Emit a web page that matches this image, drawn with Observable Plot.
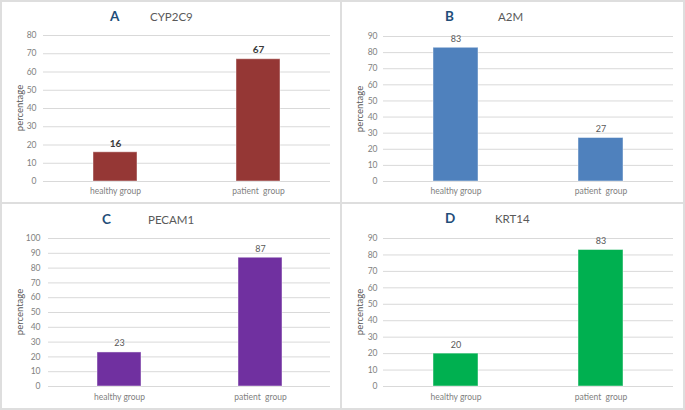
<!DOCTYPE html>
<html>
<head>
<meta charset="utf-8">
<script src="https://cdn.jsdelivr.net/npm/d3@7"></script>
<script src="https://cdn.jsdelivr.net/npm/@observablehq/plot@0.6"></script>
<style>
  html, body { margin: 0; padding: 0; background: #ffffff; }
  #page { position: relative; width: 685px; height: 410px; background: #dedede; overflow: hidden; font-family: Lato, "Open Sans", sans-serif; }
  .panel { position: absolute; background: #ffffff; }
  .chart { position: absolute; }
  .chart svg text { white-space: pre; }
  .title { position: absolute; white-space: pre; line-height: 1; }
  .letter { font-weight: 700; color: #1f4e79; font-size: 13.5px; }
  .gene { color: #595959; font-size: 11.5px; }
</style>
</head>
<body>
<div id="page"></div>
<script>
// ---- data ----
const letters = ["A", "B", "C", "D"];
const genes = ["CYP2C9", "A2M", "PECAM1", "KRT14"];
const groups = ["healthy group", "patient  group"];
const healthyValues = [16, 83, 23, 20];
const patientValues = [67, 27, 87, 83];
const yMaxValues = [80, 90, 100, 90];
const yStep = 10;

// ---- styles / layout (kept separate from data) ----
const barColors = ["#953735", "#4f81bd", "#7030a0", "#00b050"];
const valueStyles = [
  {fill: "#3a3a3a", fontWeight: "bold", fontSize: 10},
  {fill: "#595959", fontWeight: "normal", fontSize: 9},
  {fill: "#595959", fontWeight: "normal", fontSize: 9},
  {fill: "#595959", fontWeight: "normal", fontSize: 9}
];
const panelBoxes = [
  {left: 2, top: 2, width: 338, height: 200},
  {left: 342, top: 2, width: 341, height: 200},
  {left: 2, top: 204, width: 338, height: 204},
  {left: 342, top: 204, width: 341, height: 204}
];
const chartBoxes = [
  {left: 0, top: 0, width: 340, height: 202, mL: 43, mR: 10, mT: 35, mB: 21, yPad: 7, xPad: 6.5},
  {left: 340, top: 0, width: 345, height: 202, mL: 43, mR: 12, mT: 36, mB: 21, yPad: 6, xPad: 6.5},
  {left: 0, top: 202, width: 340, height: 208, mL: 48, mR: 10, mT: 36, mB: 24, yPad: 8, xPad: 7.5},
  {left: 340, top: 202, width: 345, height: 208, mL: 43, mR: 12, mT: 36, mB: 24, yPad: 6, xPad: 7.5}
];
const titlePos = [
  {letterX: 110, geneX: 150, cy: 17},
  {letterX: 445, geneX: 498, cy: 17},
  {letterX: 102, geneX: 148, cy: 220},
  {letterX: 445, geneX: 495, cy: 219}
];
const percentX = [20, 360, 20, 360];

const page = document.getElementById("page");

letters.forEach((letter, i) => {
  const pb = panelBoxes[i];
  const panel = document.createElement("div");
  panel.className = "panel";
  Object.assign(panel.style, {left: pb.left + "px", top: pb.top + "px", width: pb.width + "px", height: pb.height + "px"});
  page.appendChild(panel);
});

letters.forEach((letter, i) => {
  const cb = chartBoxes[i];
  const data = groups.map((g, j) => ({group: g, value: j === 0 ? healthyValues[i] : patientValues[i]}));
  const ticks = d3.range(0, yMaxValues[i] + 1, yStep);
  const vs = valueStyles[i];
  const chart = Plot.plot({
    width: cb.width,
    height: cb.height,
    marginLeft: cb.mL,
    marginRight: cb.mR,
    marginTop: cb.mT,
    marginBottom: cb.mB,
    style: {background: "transparent", fontFamily: "Lato, 'Open Sans', sans-serif", fontSize: "8.5px", color: "#7f7f7f", overflow: "visible"},
    x: {domain: groups, paddingInner: 0.69, paddingOuter: 0.345, label: null},
    y: {domain: [0, yMaxValues[i]], label: null},
    marks: [
      Plot.gridY(ticks, {stroke: "#d9d9d9", strokeOpacity: 1, strokeWidth: 1}),
      Plot.barY(data, {x: "group", y: "value", fill: barColors[i], stroke: "#ffffff", strokeOpacity: 0.45, strokeWidth: 1}),
      Plot.text(data, {x: "group", y: "value", text: d => String(d.value), dy: -9, lineAnchor: "middle", textAnchor: "middle",
        fill: vs.fill, fontWeight: vs.fontWeight, fontSize: vs.fontSize}),
      Plot.axisY(ticks, {tickSize: 0, tickPadding: cb.yPad, label: null, fill: "#7f7f7f"}),
      Plot.axisX({tickSize: 0, tickPadding: cb.xPad, label: null, fill: "#7f7f7f"})
    ]
  });
  const holder = document.createElement("div");
  holder.className = "chart";
  Object.assign(holder.style, {left: cb.left + "px", top: cb.top + "px"});
  holder.appendChild(chart);
  page.appendChild(holder);

  // y axis title
  const yTitle = document.createElement("div");
  yTitle.className = "title";
  yTitle.textContent = "percentage";
  const cy = cb.top + (cb.mT + (cb.height - cb.mB)) / 2;
  Object.assign(yTitle.style, {left: percentX[i] + "px", top: cy + "px", fontSize: "9.5px", color: "#595959",
    transform: "translate(-50%, -50%) rotate(-90deg)"});
  page.appendChild(yTitle);

  // panel title
  const tp = titlePos[i];
  const l = document.createElement("div");
  l.className = "title letter";
  l.textContent = letter;
  Object.assign(l.style, {left: tp.letterX + "px", top: (tp.cy - 7) + "px"});
  page.appendChild(l);
  const g = document.createElement("div");
  g.className = "title gene";
  g.textContent = genes[i];
  Object.assign(g.style, {left: tp.geneX + "px", top: (tp.cy - 6) + "px"});
  page.appendChild(g);
});
</script>
</body>
</html>
